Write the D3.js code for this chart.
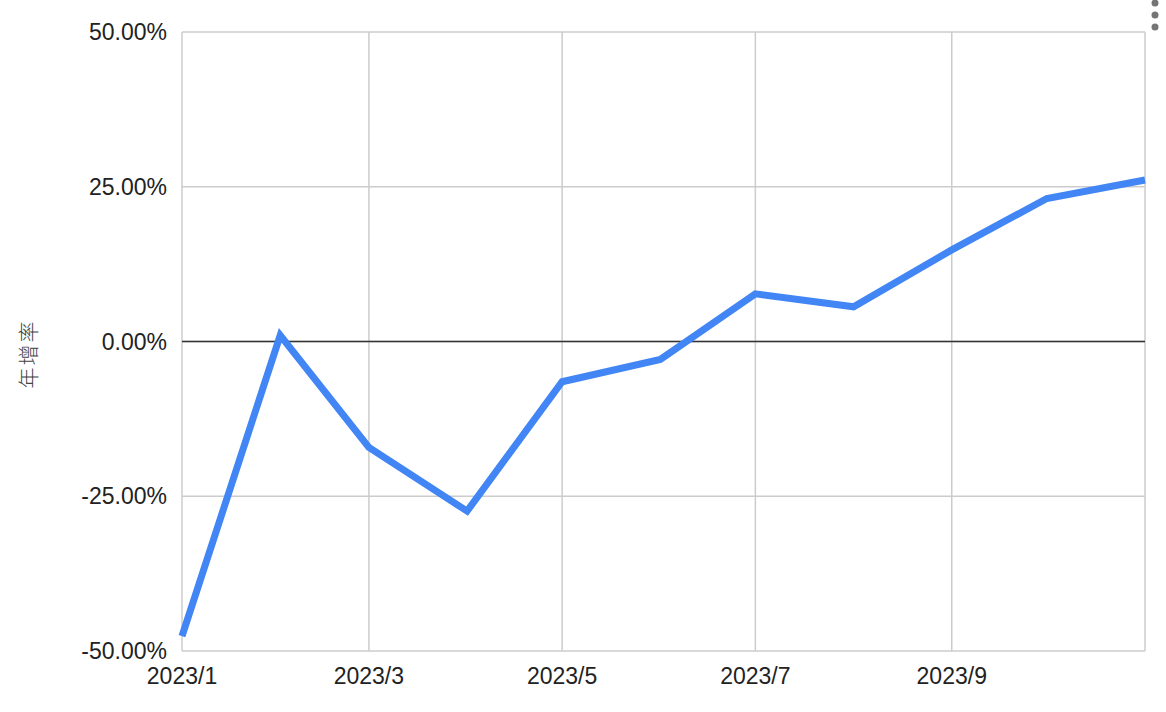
<!DOCTYPE html>
<html>
<head>
<meta charset="utf-8">
<script src="https://cdn.jsdelivr.net/npm/d3@7"></script>
<style>
  body { margin: 0; background: #fff; font-family: "Liberation Sans", Arial, sans-serif; }
  .grid line { stroke: #cccccc; stroke-width: 1.5; }
  .tick-label { font-size: 23px; fill: #222; }
</style>
</head>
<body>
<div id="chart"></div>
<script>
// 月份 (每月1日)
const months = ["2023-01-01","2023-02-01","2023-03-01","2023-04-01","2023-05-01","2023-06-01",
                "2023-07-01","2023-08-01","2023-09-01","2023-10-01","2023-11-01"];
// 年增率 (%)
const rates = [-47.6, 1.0, -17.1, -27.4, -6.5, -2.9, 7.7, 5.6, 14.8, 23.1, 26.1];
const yTicks = [-50, -25, 0, 25, 50];
const xTickMonths = ["2023-01-01","2023-03-01","2023-05-01","2023-07-01","2023-09-01","2023-11-01"];
const yLabel = "年增率";

const parse = d3.timeParse("%Y-%m-%d");
const data = months.map((m, i) => ({ fecha: parse(m), valor: rates[i] }));

const W = 1166, H = 712;
const margin = { top: 32, right: 21, bottom: 61, left: 182 };
const width = W - margin.left - margin.right;
const height = H - margin.top - margin.bottom;

const root = d3.select("#chart").append("svg")
  .attr("width", W).attr("height", H);

const svg = root.append("g")
  .attr("transform", `translate(${margin.left},${margin.top})`);

const x = d3.scaleTime()
  .domain([parse(months[0]), parse(months[months.length - 1])])
  .range([0, width]);

const y = d3.scaleLinear().domain([-50, 50]).range([height, 0]);

// Líneas de cuadrícula
const grid = svg.append("g").attr("class", "grid");
yTicks.forEach(t => {
  grid.append("line")
    .attr("x1", 0).attr("x2", width)
    .attr("y1", y(t)).attr("y2", y(t));
});
xTickMonths.forEach(m => {
  grid.append("line")
    .attr("x1", x(parse(m))).attr("x2", x(parse(m)))
    .attr("y1", 0).attr("y2", height);
});

// Línea del cero
svg.append("line")
  .attr("x1", 0).attr("x2", width)
  .attr("y1", y(0)).attr("y2", y(0))
  .attr("stroke", "#333").attr("stroke-width", 1.5);

// Etiquetas eje Y
svg.selectAll(".ylab")
  .data(yTicks)
  .enter().append("text")
  .attr("class", "tick-label")
  .attr("x", -15)
  .attr("y", d => y(d))
  .attr("dy", "0.35em")
  .attr("text-anchor", "end")
  .text(d => d3.format(".2f")(d).replace("\u2212", "-") + "%");

// Etiquetas eje X (sin la última)
svg.selectAll(".xlab")
  .data(xTickMonths.slice(0, -1))
  .enter().append("text")
  .attr("class", "tick-label")
  .attr("x", d => x(parse(d)))
  .attr("y", height + 33)
  .attr("text-anchor", "middle")
  .text(d => d3.timeFormat("%Y/%-m")(parse(d)));

// Título eje Y
root.append("text")
  .attr("transform", `translate(36,354) rotate(-90)`)
  .attr("text-anchor", "middle")
  .style("font-family", "'Noto Sans CJK TC', sans-serif")
  .style("font-size", "21px")
  .style("font-weight", 300)
  .style("letter-spacing", "2px")
  .style("fill", "#444")
  .text(yLabel);

// Serie
const line = d3.line()
  .x(d => x(d.fecha))
  .y(d => y(d.valor));

svg.append("path")
  .datum(data)
  .attr("fill", "none")
  .attr("stroke", "#4285f4")
  .attr("stroke-width", 7)
  .attr("stroke-linejoin", "miter")
  .attr("d", line);

// Menú (tres puntos)
root.selectAll(".dot")
  .data([0, 1, 2])
  .enter().append("circle")
  .attr("cx", 1155)
  .attr("cy", d => 3 + d * 12)
  .attr("r", 3.5)
  .attr("fill", "#757575");
</script>
</body>
</html>
